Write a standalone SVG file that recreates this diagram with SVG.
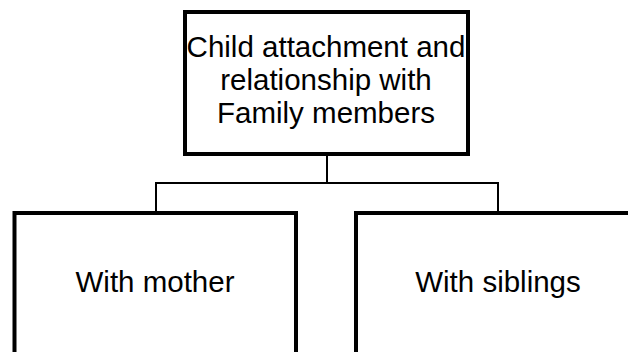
<svg xmlns="http://www.w3.org/2000/svg" width="628" height="352" viewBox="0 0 628 352">
<style>
.box{fill:#fff;stroke:#000;stroke-width:4}
.conn{fill:none;stroke:#000;stroke-width:2}
.t{font-family:"Liberation Sans",Arial,sans-serif;font-size:29.5px;fill:#000;text-anchor:middle}
</style>
<rect width="628" height="352" fill="#fff"/>
<g id="connectors">
<path class="conn" d="M327 154 V183 M156 183 H498 M156 182 V213 M498 182 V213"/>
</g>
<g id="root">
<rect class="box" x="185" y="12" width="283" height="142"/>
<text class="t" x="326" y="57">Child attachment and</text>
<text class="t" x="326" y="90">relationship with</text>
<text class="t" x="326" y="123">Family members</text>
</g>
<g id="mother">
<rect class="box" x="14.5" y="213" width="281.5" height="160"/>
<text class="t" x="155" y="291.5">With mother</text>
</g>
<g id="siblings">
<rect class="box" x="356" y="213" width="282" height="160"/>
<text class="t" x="498" y="291.5">With siblings</text>
</g>
</svg>
